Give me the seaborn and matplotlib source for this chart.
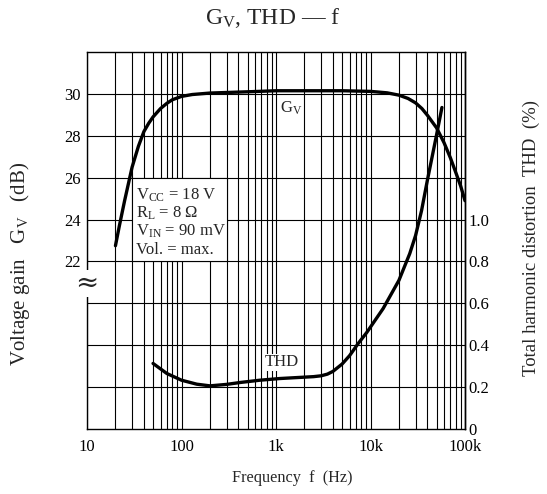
import numpy as np
import pandas as pd
import matplotlib
matplotlib.use("Agg")
import matplotlib.pyplot as plt
import seaborn as sns
from matplotlib.patches import Rectangle
from matplotlib.ticker import LogLocator, NullFormatter, FixedLocator

# ---- data ----
gv_freq = [20, 22, 25, 30, 35, 40, 45, 50, 60, 70, 80, 100, 130, 200, 500, 1000,
           2000, 5000, 10000, 15000, 20000, 25000, 30000, 35000, 40000, 50000,
           60000, 70000, 80000, 90000, 100000]
gv_db = [22.75, 23.7, 24.9, 26.5, 27.5, 28.2, 28.6, 28.9, 29.3, 29.55, 29.72,
         29.88, 29.97, 30.04, 30.1, 30.15, 30.15, 30.15, 30.12, 30.05, 29.94,
         29.78, 29.57, 29.3, 28.98, 28.38, 27.67, 26.95, 26.24, 25.6, 24.9]

thd_freq = [50, 70, 100, 145, 200, 300, 416, 676, 1100, 1900, 2500, 3000, 3500,
            4000, 5000, 6000, 7400, 9100, 13600, 20000, 26000, 30000, 34700,
            40000, 50000, 57000]
thd_pct = [0.313, 0.265, 0.233, 0.214, 0.206, 0.213, 0.222, 0.233, 0.241, 0.247,
           0.25, 0.254, 0.262, 0.275, 0.31, 0.35, 0.408, 0.46, 0.575, 0.71,
           0.837, 0.924, 1.043, 1.188, 1.404, 1.535]

left_ticks = [22, 24, 26, 28, 30]
right_ticks = [0, 0.2, 0.4, 0.6, 0.8, 1.0]
x_ticks = [10, 100, 1000, 10000, 100000]
x_labels = ["10", "100", "1k", "10k", "100k"]
cond_lines = [r"V$_{\rm CC}$ = 18 V", r"R$_{\rm L}$ = 8 Ω",
              r"V$_{\rm IN}$ = 90 mV", "Vol. = max."]

gv_df = pd.DataFrame({"f": gv_freq, "gv": gv_db})
thd_df = pd.DataFrame({"f": thd_freq, "thd": thd_pct})

sns.set_theme(style="white")
plt.rcParams["font.family"] = ["Liberation Serif", "DejaVu Serif"]
plt.rcParams["mathtext.fontset"] = "custom"
plt.rcParams["mathtext.rm"] = "Liberation Serif"
plt.rcParams["mathtext.it"] = "Liberation Serif:italic"
plt.rcParams["axes.unicode_minus"] = False

W, H = 547, 494
fig = plt.figure(figsize=(W / 100, H / 100), dpi=100)
fig.patch.set_facecolor("white")
ax = fig.add_axes([87 / W, 65 / H, 378 / W, 377 / H])
ax.set_xscale("log")
ax.set_xlim(10, 100000)
ax.set_ylim(14, 32)

grid_y = list(range(16, 32, 2))
ax.set_yticks(grid_y, labels=[str(v) if v in left_ticks else "" for v in grid_y])
ax.xaxis.set_major_locator(FixedLocator(x_ticks))
ax.set_xticks(x_ticks, labels=x_labels)
ax.xaxis.set_minor_locator(LogLocator(base=10, subs=np.arange(2, 10)))
ax.xaxis.set_minor_formatter(NullFormatter())
ax.grid(which="both", axis="x", color="black", lw=0.8)
ax.grid(which="major", axis="y", color="black", lw=0.8)
ax.tick_params(which="both", length=0, labelsize=12, colors="black")
ax.tick_params(axis="x", pad=7.5)
ax.tick_params(axis="y", pad=4.5)
for s in ax.spines.values():
    s.set_color("black")
    s.set_linewidth(1.0)

# condition box (white cell hiding inner grid)
ax.add_patch(Rectangle((30, 22), 270, 4, facecolor="white", edgecolor="black",
                       lw=0.8, zorder=1))
for i, t in enumerate(cond_lines):
    ax.text(33, 25.15 - i * 0.86, t, fontsize=12, va="center", ha="left", zorder=3)

sns.lineplot(data=gv_df, x="f", y="gv", ax=ax, color="black", lw=2.4,
             sort=False, zorder=4)
ax.set_xlabel("")
ax.set_ylabel("")
ax.text(1440, 29.33, r"G$_{\rm V}$", fontsize=12, ha="center", va="center",
        zorder=5, bbox=dict(fc="white", ec="none", pad=0.5))

ax2 = ax.twinx()
ax2.set_ylim(0, 1.8)
ax2.set_yticks(right_ticks, labels=["0" if v == 0 else f"{v:.1f}" for v in right_ticks])
ax2.tick_params(length=0, labelsize=12, colors="black", pad=2.5)
for k in ["left", "top", "bottom"]:
    ax2.spines[k].set_visible(False)
ax2.spines["right"].set_color("black")
ax2.spines["right"].set_linewidth(1.0)
ax2.grid(False)
sns.lineplot(data=thd_df, x="f", y="thd", ax=ax2, color="black", lw=2.4, sort=False)
ax2.set_xlabel("")
ax2.set_ylabel("")
ax2.text(1155, 0.318, "THD", fontsize=12, ha="center", va="center",
         bbox=dict(fc="white", ec="none", pad=0.5))

# axis break mark on left spine
ax2.text(0, 20.95, "≈", transform=ax.get_yaxis_transform(), fontsize=20,
         ha="center", va="center", clip_on=False, zorder=10,
         bbox=dict(fc="white", ec="none", pad=0.2), family=["DejaVu Serif"])

fig.text(273 / W, 1 - 18 / H, r"G$_{\rm V}$, THD — f", fontsize=17,
         ha="center", va="center")
fig.text(20 / W, 1 - 264 / H, r"Voltage gain   G$_{\rm V}$   (dB)", fontsize=15,
         rotation=90, ha="center", va="center")
fig.text(531 / W, 1 - 238 / H, "Total harmonic distortion  THD  (%)", fontsize=13.5,
         rotation=90, ha="center", va="center")
fig.text(292 / W, 1 - 478 / H, "Frequency  f  (Hz)", fontsize=11.7,
         ha="center", va="center")

fig.savefig("out.png", dpi=100, facecolor="white")
